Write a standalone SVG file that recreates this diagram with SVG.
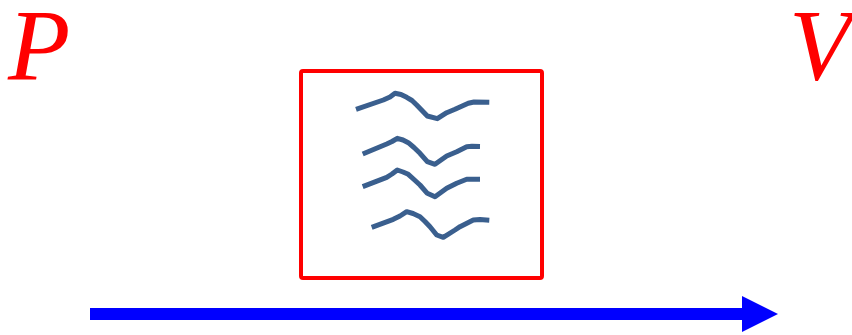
<svg xmlns="http://www.w3.org/2000/svg" width="852" height="335" viewBox="0 0 852 335">
<style>
.lbl{font-family:"Liberation Serif","DejaVu Serif",serif;font-style:italic;font-size:102px;fill:#FF0000}
.wave{fill:none;stroke:#3A5F8E;stroke-width:5;stroke-linejoin:round;stroke-linecap:butt}
</style>
<defs>
<marker id="ah" markerWidth="3" markerHeight="3" refX="0" refY="1.5" orient="auto" markerUnits="strokeWidth">
<path d="M0,0 L3,1.5 L0,3 Z" fill="#0000FF"/>
</marker>
</defs>
<g id="label-P"><text class="lbl" x="8" y="80">P</text></g>
<g id="label-V"><text class="lbl" x="789" y="80">V</text></g>
<g id="box">
<rect x="301" y="71" width="241" height="207" rx="2" fill="none" stroke="#FF0000" stroke-width="4"/>
<polyline class="wave" points="356,109.3 383.3,100 390,97 395,93.3 401,94.5 406.7,97.3 412,100.5 416.7,105 427.3,116 437.3,118.7 446.7,112.7 455,109.3 468.3,103.3 474,102 489.3,102.3"/>
<polyline class="wave" points="362.7,154 386.7,144 392,141.5 397.3,138.3 403,140 408.3,142.7 414,147.5 420,153.3 427.3,161.7 435,164.3 446.7,156 456.7,151.7 466.7,146.7 472,146.3 480,146.5"/>
<polyline class="wave" points="362.7,186.7 386.7,177.3 392,174 397.3,170 403,172 408.3,174.3 414,179.5 420,185 427.3,193.3 435,196.7 446.7,188.3 456.7,183.3 466.7,179.3 480,179.3"/>
<polyline class="wave" points="371.7,227.3 393.3,219.3 400,216 406.7,211.7 413,213.5 420,216.7 425,221.5 430,226.7 436.7,235 443.3,237.3 455,230 460,226.7 473.3,220 480,219.5 489.3,220.2"/>
</g>
<g id="connectors">
<line x1="90" y1="314" x2="742" y2="314" stroke="#0000FF" stroke-width="12" marker-end="url(#ah)"/>
</g>
</svg>
